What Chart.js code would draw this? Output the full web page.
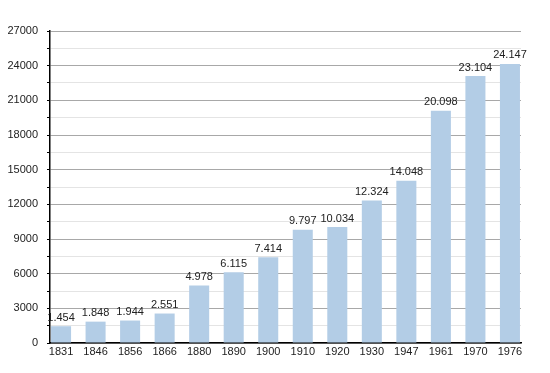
<!DOCTYPE html>
<html>
<head>
<meta charset="utf-8">
<script src="https://cdn.jsdelivr.net/npm/chart.js@4/dist/chart.umd.min.js"></script>
<style>
	body { margin: 0; background: #fff; }
	#wrap { width: 550px; height: 373px; }
</style>
</head>
<body>
<div id="wrap"><canvas id="myChart" width="550" height="373"></canvas></div>
<script>
// census years and population
let years = ['1831', '1846', '1856', '1866', '1880', '1890', '1900', '1910', '1920', '1930', '1947', '1961', '1970', '1976'];
let population = [1454, 1848, 1944, 2551, 4978, 6115, 7414, 9797, 10034, 12324, 14048, 20098, 23104, 24147];
let yMax = 27000;
let yStep = 1500;

function fmt(v) {
	// thousands with a dot, like the original
	return String(v).replace(/\B(?=(\d{3})+(?!\d))/g, '.');
}

let barLabels = {
	id: 'barLabels',
	afterDatasetsDraw(chart) {
		let ctx = chart.ctx;
		let meta = chart.getDatasetMeta(0);
		ctx.save();
		ctx.font = '11px "Liberation Sans", Arial, sans-serif';
		ctx.fillStyle = '#222';
		ctx.textAlign = 'center';
		ctx.textBaseline = 'bottom';
		meta.data.forEach((bar, i) => {
			ctx.fillText(fmt(population[i]), bar.x, bar.y - 3);
		});
		ctx.restore();
	}
};

let ctx = document.getElementById('myChart');
let myBarChart = new Chart(ctx, {
	type: 'bar',
	data: {
		labels: years,
		datasets: [{
			data: population,
			backgroundColor: '#b3cde6',
			barPercentage: 0.58,
			categoryPercentage: 1
		}]
	},
	plugins: [barLabels],
	options: {
		responsive: false,
		animation: false,
		layout: { padding: { top: 31, right: 29, left: 0, bottom: 0 } },
		plugins: { legend: { display: false }, tooltip: { enabled: false } },
		scales: {
			x: {
				offset: false,
				grid: { display: false, drawTicks: false },
				border: { color: '#000', width: 1.5 },
				ticks: {
					color: '#222',
					padding: 2,
					maxRotation: 0,
					font: { size: 11, family: '"Liberation Sans", Arial, sans-serif' }
				},
				afterFit(scale) {
					scale.height = 30;
					// first and last bar sit close to the plot edges
					scale._startValue = -0.32;
					scale._valueRange = years.length - 1 + 0.64;
				}
			},
			y: {
				min: 0,
				max: yMax,
				grid: {
					color: c => (c.tick.value % 3000 === 0 ? '#a8a8a8' : '#e4e4e4'),
					tickColor: '#000',
					tickLength: 3
				},
				border: { color: '#000', width: 1.5 },
				ticks: {
					stepSize: yStep,
					autoSkip: false,
					color: '#222',
					padding: 9,
					font: { size: 11, family: '"Liberation Sans", Arial, sans-serif' },
					callback: v => (v % 3000 === 0 ? String(v) : '')
				},
				afterFit(scale) { scale.width = 50; }
			}
		}
	}
});
</script>
</body>
</html>
